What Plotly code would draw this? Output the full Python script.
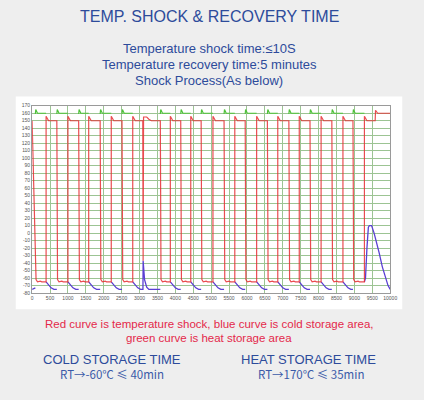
import plotly.graph_objects as go

# switching times (x axis units)
cold_starts = [90, 690, 1300, 1900, 2510, 3580, 4150, 4720, 5360, 5950, 6570, 7170, 7760, 8370, 8960]
hot_starts = [390, 1000, 1580, 2210, 2810, 3860, 4430, 5050, 5660, 6270, 6860, 7460, 8070, 8680, 9280]
x_end = 10000

# shape of each curve after a switch (offset, temperature)
red_cold_t = [0, 20, 60, 140, 180]
red_cold_v = [-61, -62, -65, -64, -65]
red_hot_t = [0, 15, 70]
red_hot_v = [156, 155, 150]
green_t = [0, 12, 60]
green_v = [159, 165, 160]
blue_t = [0, 60, 140, 220]
blue_v = [-65, -69, -73, -75]

# irregular parts of the record
red_start_x = [0]
red_start_y = [150]
blue_start_x = [0, 60, 90]
blue_start_y = [-75, -74, -73]
red_dip_x = [3090, 3100, 3112, 3200, 3260, 3330]
red_dip_y = [150, -37, 155, 155, 152, 150]
blue_dip_x = [3100, 3140, 3200, 3260]
blue_dip_y = [-37, -62, -72, -75]
red_end_x = [9580, 9590, 9650]
red_end_y = [150, 164, 160]
blue_end_x = [9280, 9310, 9350, 9390, 9420, 9480, 9550, 9620, 9690, 9780, 9870, 9940, 10000]
blue_end_y = [-65, -60, -20, 8, 10, 10, 0, -12, -26, -45, -60, -70, -75]

y_ticks = list(range(-80, 171, 10))
x_ticks = list(range(0, 10001, 500))


def segment(s, e, ts, vs):
    xs, ys = [], []
    for t, v in zip(ts, vs):
        if s + t < e:
            xs.append(s + t)
            ys.append(v)
    xs.append(e)
    ys.append(vs[-1])
    return xs, ys


events = sorted([(t, "cold") for t in cold_starts] + [(t, "hot") for t in hot_starts])

rx, ry = list(red_start_x), list(red_start_y)
gx, gy = [], []
bx, by = list(blue_start_x) + [None], list(blue_start_y) + [None]

for i, (s, kind) in enumerate(events):
    e = events[i + 1][0] if i + 1 < len(events) else x_end
    if kind == "cold":
        xs, ys = segment(s, e, red_cold_t, red_cold_v)
        rx += xs
        ry += ys
        xs, ys = segment(s, e, green_t, green_v)
        gx += xs + [None]
        gy += ys + [None]
    else:
        stop = e
        if s < red_dip_x[0] < e:
            stop = red_dip_x[0]
        if s < red_end_x[0] < e:
            stop = red_end_x[0]
        xs, ys = segment(s, stop, red_hot_t, red_hot_v)
        rx += xs
        ry += ys
        if stop == red_dip_x[0]:
            rx += red_dip_x + [e]
            ry += red_dip_y + [red_dip_y[-1]]
            xs, ys = segment(s, blue_dip_x[0] - 5, blue_t, blue_v)
            bx += xs + blue_dip_x + [e, None]
            by += ys + blue_dip_y + [blue_dip_y[-1], None]
        elif stop == red_end_x[0]:
            rx += red_end_x + [e]
            ry += red_end_y + [red_end_y[-1]]
            bx += blue_end_x
            by += blue_end_y
        else:
            xs, ys = segment(s, e, blue_t, blue_v)
            bx += xs + [None]
            by += ys + [None]

fig = go.Figure()
fig.add_trace(go.Scatter(x=gx, y=gy, mode="lines", line=dict(color="#4fc23a", width=1.2),
                         connectgaps=False, hoverinfo="skip"))
fig.add_trace(go.Scatter(x=bx, y=by, mode="lines", line=dict(color="#5a3fd2", width=1.3),
                         connectgaps=False, hoverinfo="skip"))
fig.add_trace(go.Scatter(x=rx, y=ry, mode="lines", line=dict(color="rgba(230,45,50,0.85)", width=1.2),
                         hoverinfo="skip"))

# white panel behind the graph
fig.add_shape(type="rect", xref="paper", yref="paper", x0=0.0354, x1=0.9646, y0=0.2225, y1=0.7625,
              line=dict(width=0), fillcolor="white", layer="below")

blue = "#2d4b9b"
red = "#e4284a"
notes = [
    ("TEMP. SHOCK & RECOVERY TIME", 0.5, 0.965, 16, blue, None),
    ("Temperature shock time:≤10S", 0.5, 0.884, 13, blue, None),
    ("Temperature recovery time:5 minutes", 0.5, 0.845, 13, blue, None),
    ("Shock Process(As below)", 0.5, 0.803, 13, blue, None),
    ("Red curve is temperature shock, blue curve is cold storage area,", 0.5, 0.186, 11.5, red, 14),
    ("green curve is heat storage area", 0.5, 0.151, 11.5, red, 14),
    ("COLD STORAGE TIME", 0.2665, 0.095, 13, blue, None),
    ("HEAT STORAGE TIME", 0.74, 0.095, 13, blue, None),
]
for text, x, y, size, color, h in notes:
    fig.add_annotation(text=text, x=x, y=y, xref="paper", yref="paper", showarrow=False,
                       xanchor="center", yanchor="middle", height=h, borderpad=0,
                       font=dict(family="Liberation Sans, Arial", size=size, color=color))
for text, x in [("RT→-60℃ ≤ 40min", 0.2665), ("RT→170℃ ≤ 35min", 0.745)]:
    fig.add_annotation(text=text, x=x, y=0.058, xref="paper", yref="paper", showarrow=False,
                       xanchor="center", yanchor="middle",
                       font=dict(family="Noto Sans CJK SC", size=11.5, color="#3b5aa8"))

grid = "#9cc493"
axis_style = dict(
    showgrid=True,
    gridcolor=grid,
    gridwidth=1,
    zeroline=False,
    showline=True,
    linecolor="#9a9a9a",
    mirror=True,
    ticks="",
    tickfont=dict(family="Liberation Sans", size=5, color="#555"),
)
fig.update_layout(
    width=424,
    height=400,
    margin=dict(l=0, r=0, t=0, b=0),
    paper_bgcolor="#eeeeee",
    plot_bgcolor="white",
    showlegend=False,
    xaxis=dict(domain=[0.0748, 0.9356], range=[0, 10000], tickvals=x_ticks,
               ticktext=[str(v) for v in x_ticks], **axis_style),
    yaxis=dict(domain=[0.26375, 0.73925], range=[-80, 170], tickvals=y_ticks,
               ticktext=[str(v) for v in y_ticks], **axis_style),
)

fig.write_html("out.html", config={"displayModeBar": False},
               post_script="document.body.style.margin='0';")
